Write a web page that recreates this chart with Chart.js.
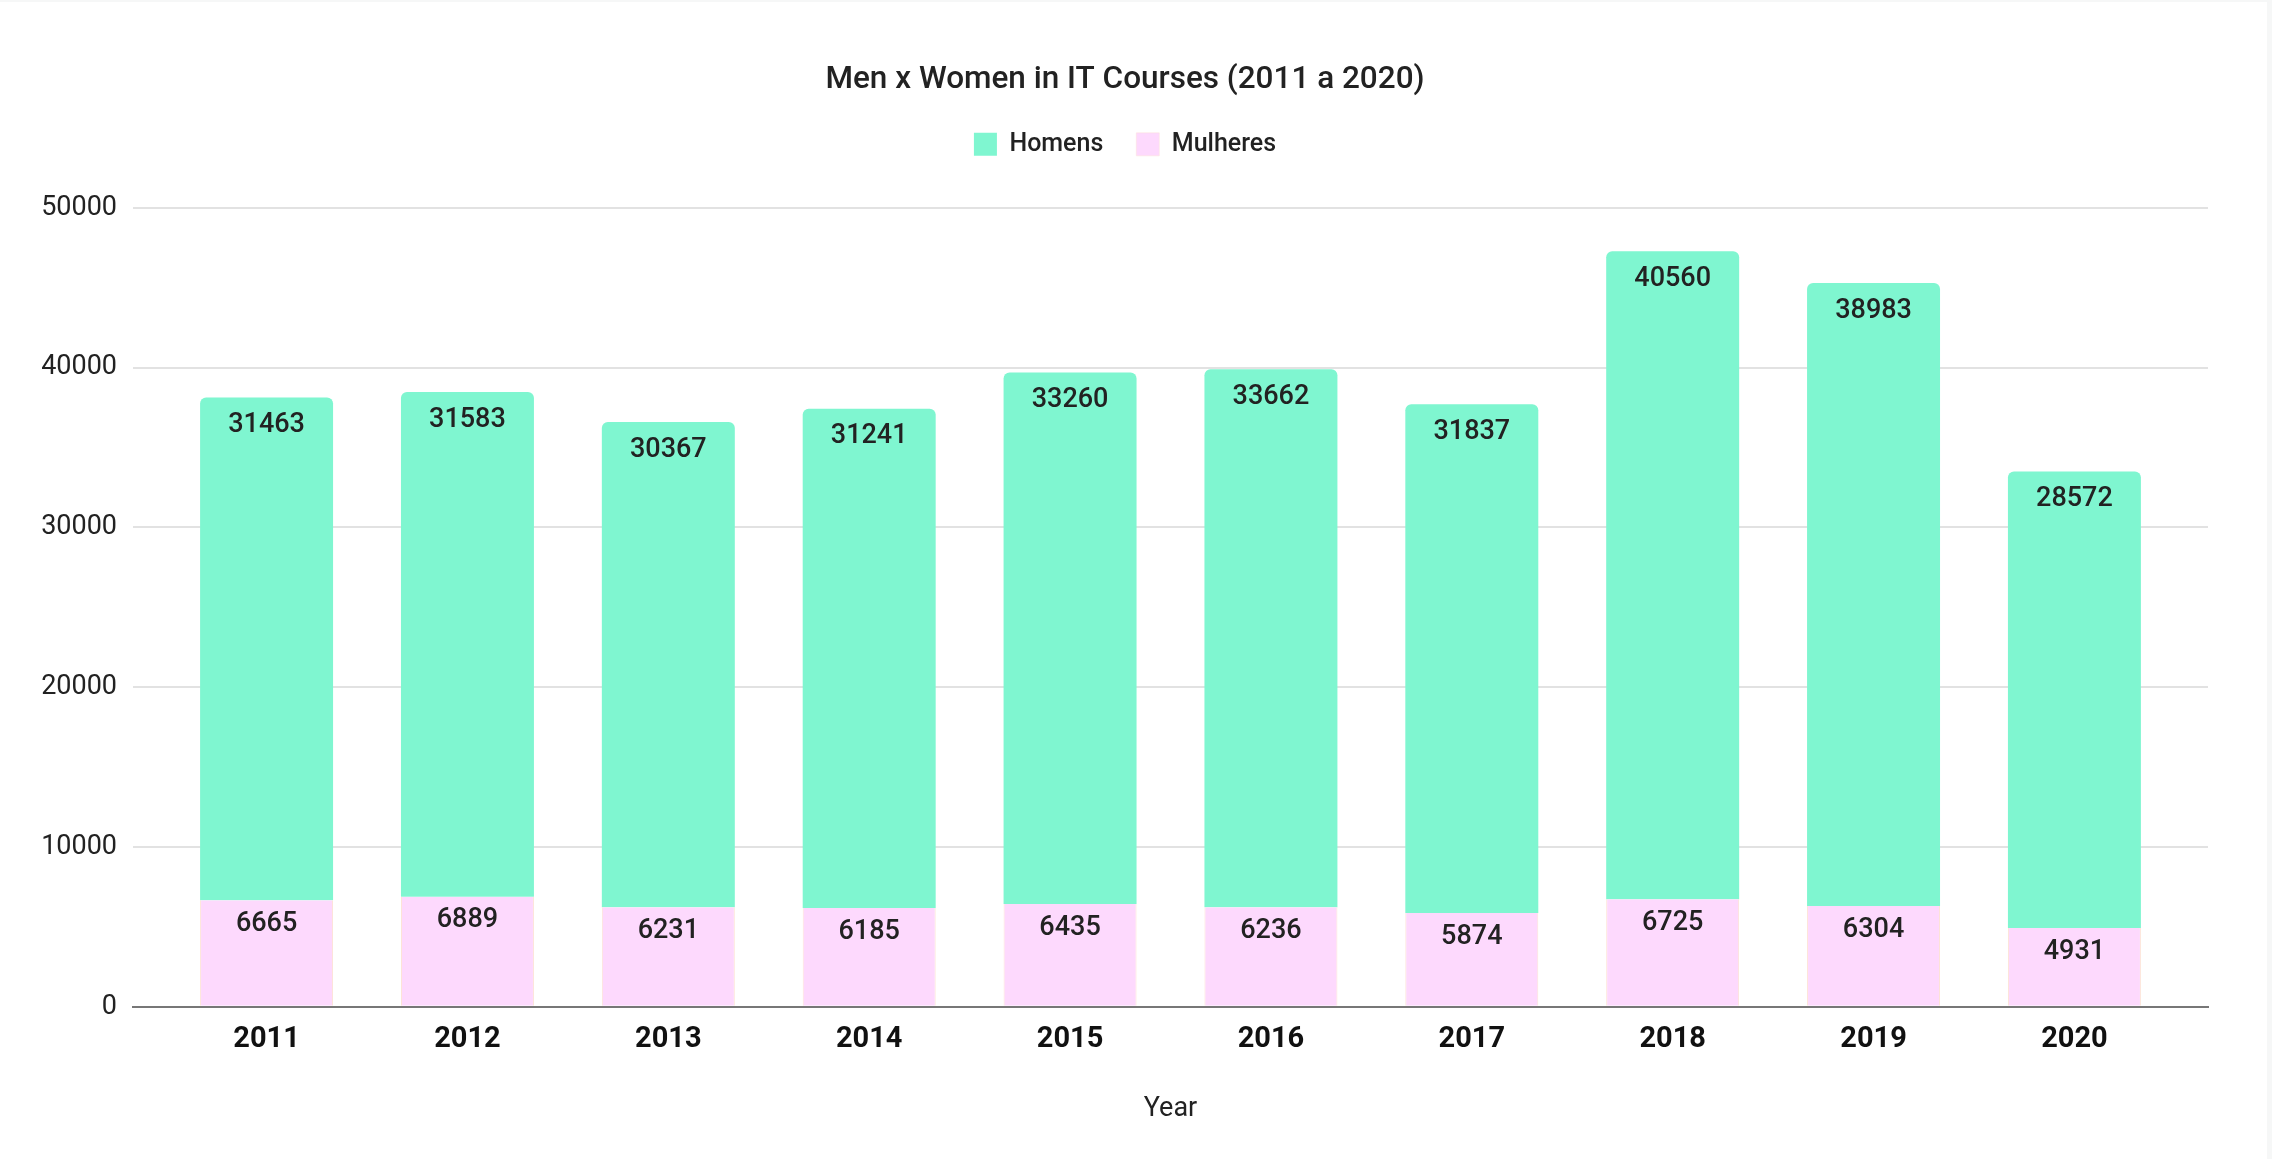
<!DOCTYPE html>
<html>
<head>
<meta charset="utf-8">
<script src="https://cdn.jsdelivr.net/npm/chart.js@4.4.0/dist/chart.umd.min.js"></script>
<style>
  html, body { margin: 0; padding: 0; background: #ffffff; }
  #wrap { width: 2267px; height: 1157px; border-top: 2px solid #f6f7f7; border-right: 5px solid #f6f7f7; }
  canvas { display: block; }
</style>
</head>
<body>
<div id="wrap"><canvas id="graph" width="2267" height="1157"></canvas></div>
<script>
const years = ['2011', '2012', '2013', '2014', '2015', '2016', '2017', '2018', '2019', '2020'];
const homens = [31463, 31583, 30367, 31241, 33260, 33662, 31837, 40560, 38983, 28572];
const mulheres = [6665, 6889, 6231, 6185, 6435, 6236, 5874, 6725, 6304, 4931];
const yTicks = [0, 10000, 20000, 30000, 40000, 50000];

// values written inside the bars, near the top of each segment
const barLabels = {
    id: 'barLabels',
    afterDatasetsDraw(chart) {
        const ctx = chart.ctx;
        ctx.save();
        ctx.font = '500 27px Roboto';
        ctx.fillStyle = '#222222';
        ctx.textAlign = 'center';
        ctx.textBaseline = 'middle';
        chart.data.datasets.forEach((ds, i) => {
            const off = ds.label === 'Homens' ? 28 : 24;
            chart.getDatasetMeta(i).data.forEach((bar, j) => {
                ctx.fillText(String(ds.data[j].y), bar.x, bar.y + off);
            });
        });
        ctx.restore();
    }
};

// extra room under the legend
const legendGap = {
    id: 'legendGap',
    beforeInit(chart) {
        const fit = chart.legend.fit;
        chart.legend.fit = function () {
            fit.bind(chart.legend)();
            this.height += 41;
        };
    }
};

let myChart = new Chart(document.getElementById('graph'), {
    type: 'bar',
    data: {
        datasets: [
            {
                label: 'Mulheres',
                data: mulheres.map((v, i) => ({ x: i, y: v })),
                backgroundColor: '#fdd9fd',
                borderColor: '#fde2d6',
                borderWidth: { left: 1, right: 1, top: 0, bottom: 0 },
                borderSkipped: false
            },
            {
                label: 'Homens',
                data: homens.map((v, i) => ({ x: i, y: v })),
                backgroundColor: '#7ff6d0',
                borderWidth: 0,
                borderRadius: { topLeft: 6, topRight: 6, bottomLeft: 0, bottomRight: 0 },
                borderSkipped: 'bottom'
            }
        ]
    },
    options: {
        responsive: false,
        devicePixelRatio: 1,
        animation: false,
        categoryPercentage: 0.662,
        barPercentage: 1,
        layout: { padding: { left: 42, right: 59, top: 0, bottom: 34 } },
        plugins: {
            title: {
                display: true,
                text: 'Men x Women in IT Courses (2011 a 2020)',
                color: '#222222',
                font: { family: 'Roboto', size: 31.5, weight: '500' },
                padding: { top: 59, bottom: 0 }
            },
            legend: {
                display: true,
                labels: {
                    color: '#222222',
                    font: { family: 'Roboto', size: 25, weight: '500' },
                    boxWidth: 23,
                    boxHeight: 23,
                    padding: 33,
                    sort: (a, b) => b.datasetIndex - a.datasetIndex
                }
            },
            tooltip: { enabled: false }
        },
        scales: {
            x: {
                type: 'linear',
                stacked: true,
                offset: false,
                min: -0.665,
                max: 9.665,
                afterBuildTicks: s => { s.ticks = years.map((y, i) => ({ value: i })); },
                grid: { display: false, drawTicks: false },
                border: { display: true, color: '#777777', width: 2 },
                ticks: {
                    color: '#111111',
                    font: { family: 'Roboto', size: 29, weight: 'bold' },
                    padding: 16,
                    callback: v => years[v]
                },
                title: {
                    display: true,
                    text: 'Year',
                    color: '#222222',
                    font: { family: 'Roboto', size: 27 },
                    padding: { top: 19, bottom: 0 }
                }
            },
            y: {
                stacked: true,
                min: 0,
                max: 50000,
                afterBuildTicks: s => { s.ticks = yTicks.map(v => ({ value: v })); },
                afterFit: s => { s.width = 91; },
                grid: { color: '#e2e2e2', lineWidth: 2, drawTicks: false },
                border: { display: false },
                ticks: {
                    color: '#222222',
                    font: { family: 'Roboto', size: 27 },
                    padding: 16,
                    callback: v => String(v)
                }
            }
        }
    },
    plugins: [barLabels, legendGap]
});
</script>
</body>
</html>
